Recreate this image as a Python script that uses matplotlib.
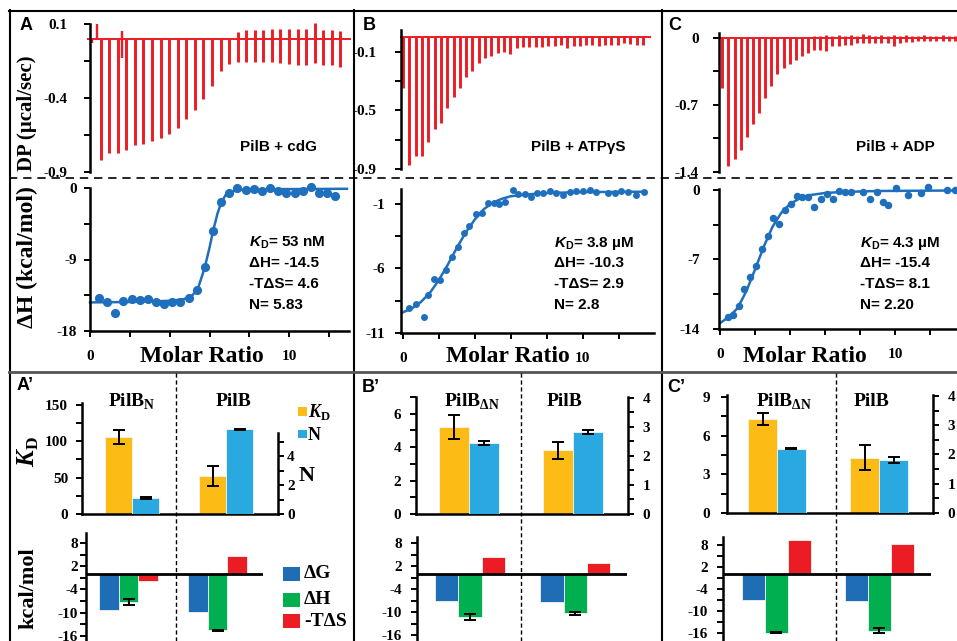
import numpy as np
import matplotlib.pyplot as plt
from matplotlib.lines import Line2D
from matplotlib.patches import Rectangle
from matplotlib.ticker import FixedLocator, MultipleLocator, FuncFormatter

plt.rcParams['font.family'] = ['Liberation Serif', 'DejaVu Serif']
plt.rcParams['font.weight'] = 'bold'
plt.rcParams['axes.unicode_minus'] = False
plt.rcParams['mathtext.fontset'] = 'custom'
plt.rcParams['mathtext.rm'] = 'Liberation Sans:bold'
plt.rcParams['mathtext.it'] = 'Liberation Sans:italic:bold'
plt.rcParams['mathtext.bf'] = 'Liberation Serif:bold'
plt.rcParams['mathtext.sf'] = 'Liberation Serif:italic:bold'

W, H = 957, 641
RED = '#ec1c24'
BLUE = '#1f6fbd'
YELLOW = '#fdbb16'
SKY = '#2aa8e0'
ENERGY_COLORS = ['#1f6db5', '#00b050', '#ec1c24']
SANS = 'Liberation Sans'

# ---------------- raw ITC traces: peak height of each injection (ucal/sec) ----------------
dpA_low = [-0.82, -0.77, -0.77, -0.75, -0.72, -0.71, -0.69, -0.67, -0.64, -0.60,
           -0.54, -0.48, -0.41, -0.32, -0.22, -0.17, -0.155, -0.155, -0.155, -0.155,
           -0.16, -0.165, -0.17, -0.18, -0.18, -0.165, -0.175, -0.175, -0.19]
dpA_high = [0, 0, 0, 0, 0, 0, 0, 0, 0, 0, 0, 0, 0, 0, 0, 0,
            0.048, 0.06, 0.06, 0.06, 0.065, 0.065, 0.065, 0.065, 0.065, 0.105, 0.06, 0.06, 0.055]
dpA_art_x = [-0.98, -0.47, 2.45]
dpA_art_low = [-0.03, 0.0, -0.13]
dpA_art_high = [0.0, 0.10, 0.055]

dpB_low = [-0.348, -0.873, -0.811, -0.811, -0.717, -0.629, -0.588, -0.485, -0.41, -0.348,
           -0.273, -0.228, -0.178, -0.143, -0.127, -0.109, -0.098, -0.114, -0.075, -0.068,
           -0.068, -0.064, -0.064, -0.059, -0.059, -0.052, -0.075, -0.059, -0.059, -0.052,
           -0.052, -0.059, -0.052, -0.052, -0.052, -0.04, -0.045, -0.052, -0.052]
dpB_high = [0, 0, 0, 0, 0, 0, 0, 0, 0, 0, 0, 0, 0, 0, 0, 0.01, 0.01, 0.01, 0.01, 0.01,
            0.01, 0.01, 0.01, 0.01, 0.01, 0.01, 0.01, 0.01, 0.01, 0.01, 0.01, 0.01, 0.01,
            0.01, 0.01, 0.01, 0.01, 0.01, 0.01]

dpC_low = [-0.52, -1.34, -1.26, -1.17, -1.04, -0.90, -0.78, -0.63, -0.50, -0.38,
           -0.32, -0.27, -0.23, -0.195, -0.16, -0.125, -0.125, -0.14, -0.09, -0.09,
           -0.077, -0.077, -0.056, -0.056, -0.056, -0.05, -0.056, -0.05, -0.09, -0.05,
           -0.045, -0.04, -0.035, -0.035, -0.03, -0.03, -0.03, -0.03, -0.03]
dpC_high = [0, 0, 0, 0, 0, 0, 0, 0, 0, 0, 0, 0, 0, 0, 0, 0.02, 0.02, 0.03, 0.02, 0.03,
            0.02, 0.03, 0.02, 0.04, 0.03, 0.02, 0.03, 0.02, 0.03, 0.02, 0.03, 0.02, 0.02,
            0.03, 0.02, 0.02, 0.03, 0.02, 0.02]

# ---------------- integrated heats (kcal/mol) vs molar ratio ----------------
isoA_x = [0.45, 0.86, 1.27, 1.68, 2.09, 2.50, 2.90, 3.31, 3.72, 4.13, 4.54, 4.95, 5.36, 5.77, 6.18,
          6.58, 6.99, 7.40, 7.81, 8.22, 8.63, 9.04, 9.45, 9.86, 10.27, 10.68, 11.09, 11.50, 11.91, 12.31]
isoA_y = [-13.9, -14.3, -15.7, -14.2, -14.0, -14.1, -14.0, -14.3, -14.6, -14.4, -14.4, -13.9, -12.9,
          -10.0, -5.4, -1.7, -0.67, -0.04, -0.25, -0.17, -0.34, -0.04, -0.34, -0.59, -0.59, -0.34,
          0.08, -0.59, -0.67, -0.97]
fitA_x = [0, 2, 4, 4.7, 5.1, 5.4, 5.76, 6.0, 6.18, 6.4, 6.58, 6.8, 7.0, 7.5, 9, 12.9]
fitA_y = [-14.4, -14.35, -14.2, -14.0, -13.6, -12.8, -10.0, -7.5, -5.4, -3.2, -1.9, -0.9, -0.5,
          -0.25, -0.15, -0.1]

isoB_x = [0.37, 0.74, 1.17, 1.39, 1.72, 2.04, 2.41, 2.72, 3.06, 3.39, 3.70, 4.07, 4.39, 4.72, 5.06,
          5.37, 5.69, 6.11, 6.39, 6.76, 7.13, 7.46, 7.78, 8.15, 8.52, 8.89, 9.26, 9.63, 10.0, 10.37,
          10.74, 11.4, 11.76, 12.13, 12.5, 12.96, 13.37]
isoB_y = [-9.09, -8.75, -9.78, -8.05, -6.84, -6.89, -6.12, -5.13, -4.31, -3.22, -2.71, -1.78, -1.72,
          -0.95, -0.90, -1.0, -0.82, 0.09, -0.22, -0.22, -0.48, -0.17, -0.12, 0.03, -0.12, -0.30,
          -0.05, 0.03, 0.03, 0.09, -0.05, -0.12, -0.17, 0.03, -0.05, -0.30, -0.05]
fitB_x = [0, 0.5, 1.0, 1.5, 2.0, 2.5, 3.0, 3.5, 4.0, 4.5, 5.0, 5.5, 6.0, 7.0, 8.0, 10.0, 13.5]
fitB_y = [-9.4, -9.1, -8.6, -7.9, -6.9, -5.7, -4.4, -3.2, -2.2, -1.4, -0.9, -0.6, -0.4, -0.25,
          -0.15, -0.08, -0.05]

isoC_x = [0.44, 0.76, 1.09, 1.39, 1.71, 2.04, 2.38, 2.72, 3.05, 3.39, 3.71, 4.06, 4.38, 4.70, 5.05,
          5.39, 5.77, 6.10, 6.44, 6.80, 7.14, 7.49, 8.19, 8.57, 8.95, 9.30, 9.62, 10.06, 10.72,
          11.47, 11.87, 12.95, 13.43]
isoC_y = [-12.76, -12.59, -11.68, -10.0, -8.8, -7.65, -5.97, -4.63, -2.85, -3.42, -2.01, -1.41,
          -0.60, -0.74, -0.74, -1.74, -0.94, -0.40, -0.94, -0.07, -0.17, -0.17, -0.17, -0.94, -0.17,
          -1.17, -1.51, 0.17, -0.5, -0.34, 0.27, 0.0, 0.0]
fitC_x = [0, 0.5, 1.0, 1.5, 2.0, 2.5, 3.0, 3.5, 4.0, 4.5, 5.0, 6.0, 7.0, 9.0, 13.5]
fitC_y = [-13.4, -12.8, -11.9, -10.2, -8.0, -5.7, -3.7, -2.3, -1.4, -0.9, -0.55, -0.3, -0.2, -0.1,
          -0.05]

titles = ['PilB + cdG', 'PilB + ATPγS', 'PilB + ADP']
kd_text = [r'$K_{\mathrm{D}}$= 53 nM', r'$K_{\mathrm{D}}$= 3.8 µM', r'$K_{\mathrm{D}}$= 4.3 µM']
dh_text = ['ΔH= -14.5', 'ΔH= -10.3', 'ΔH= -15.4']
tds_text = ['-TΔS= 4.6', '-TΔS= 2.9', '-TΔS= 8.1']
n_text = ['N= 5.83', 'N= 2.8', 'N= 2.20']

# ---------------- bar panels ----------------
groups_A = [r'PilB$_{\mathbf{N}}$', 'PilB']
groups_BC = [r'PilB$_{\mathbf{ΔN}}$', 'PilB']

kd_A = [106, 52.5]
kd_A_err = [10, 14]
n_A = [1.1, 5.85]
n_A_err = [0.05, 0.03]
dg_A = [-9.3, -9.8]
dh_A = [-7.2, -14.5]
dh_A_err = [0.75, 0.12]
tds_A = [-1.8, 4.7]

kd_B = [5.2, 3.8]
kd_B_err = [0.7, 0.52]
n_B = [2.45, 2.83]
n_B_err = [0.06, 0.07]
dg_B = [-7.0, -7.4]
dh_B = [-11.2, -10.3]
dh_B_err = [0.8, 0.3]
tds_B = [4.35, 2.9]

kd_C = [7.3, 4.3]
kd_C_err = [0.45, 0.95]
n_C = [2.2, 1.8]
n_C_err = [0.03, 0.1]
dg_C = [-7.0, -7.3]
dh_C = [-16.0, -15.4]
dh_C_err = [0.1, 0.6]
tds_C = [9.3, 8.1]

energy_labels = ['ΔG', 'ΔH', '-TΔS']
kdn_labels = [r'$\mathsf{K}_{\mathbf{D}}$', 'N']

fig = plt.figure(figsize=(W / 100, H / 100), dpi=100)


def px_axes(left, top, right, bottom):
    return fig.add_axes([left / W, 1 - bottom / H, (right - left) / W, (bottom - top) / H])


def px_text(x, y, s, ha='center', va='center', **kw):
    fig.text(x / W, 1 - y / H, s, ha=ha, va=va, **kw)


def px_line(x0, y0, x1, y1, **kw):
    fig.add_artist(Line2D([x0 / W, x1 / W], [1 - y0 / H, 1 - y1 / H],
                          transform=fig.transFigure, **kw))


def px_rect(x, y, w, h, color):
    fig.add_artist(Rectangle((x / W, 1 - (y + h) / H), w / W, h / H,
                             transform=fig.transFigure, color=color, lw=0))


fmt = FuncFormatter(lambda v, p: f'{v:g}')


def style(ax, pad):
    ax.patch.set_visible(False)
    for side in ['top', 'right']:
        ax.spines[side].set_visible(False)
    for side in ['left', 'bottom']:
        ax.spines[side].set_linewidth(1.8)
    ax.tick_params(which='both', direction='out', length=4.5, width=1.4, pad=pad, labelsize=11)
    ax.yaxis.set_major_formatter(fmt)


def draw_dp(box, xlim, ylim, major, minor, pad, base, low, high):
    ax = px_axes(*box)
    style(ax, pad)
    ax.spines['bottom'].set_visible(False)
    ax.set_xticks([])
    ax.set_xlim(*xlim)
    ax.set_ylim(*ylim)
    ax.yaxis.set_major_locator(FixedLocator(major))
    ax.yaxis.set_minor_locator(FixedLocator(minor))
    ax.plot(base, [0, 0], color=RED, lw=1.4, clip_on=False)
    ax.vlines(np.arange(len(low)), low, high, color=RED, lw=2.1, clip_on=False)
    return ax


def draw_iso(box, xlim, ylim, major, minor, pad, px, py, fx, fy, ms):
    ax = px_axes(*box)
    style(ax, pad)
    ax.set_xlim(*xlim)
    ax.set_ylim(*ylim)
    ax.yaxis.set_major_locator(FixedLocator(major))
    ax.yaxis.set_minor_locator(FixedLocator(minor))
    ax.xaxis.set_major_locator(FixedLocator([0, 10]))
    ax.xaxis.set_minor_locator(MultipleLocator(2))
    ax.xaxis.set_major_formatter(fmt)
    ax.tick_params(axis='x', which='major', pad=9)
    ax.plot(fx, fy, color=BLUE, lw=1.8, clip_on=False)
    ax.plot(px, py, 'o', color=BLUE, ms=ms, mec='none', clip_on=False)
    return ax


def draw_kdn(box, xlim, ylim, lmajor, lminor, rylim, rbound, rmajor, rminor, lpad, rpad,
             kd, kd_err, n, n_err, width):
    ax = px_axes(*box)
    style(ax, lpad)
    ax.set_xticks([])
    ax.set_xlim(*xlim)
    ax.set_ylim(*ylim)
    ax.yaxis.set_major_locator(FixedLocator(lmajor))
    ax.yaxis.set_minor_locator(MultipleLocator(lminor))
    x = np.arange(len(kd))
    ekw = dict(elinewidth=1.4, capthick=1.4, ecolor='black')
    ax.bar(x - width / 2, kd, width, color=YELLOW, yerr=kd_err, capsize=4.5,
           error_kw=ekw, edgecolor='#f3f3f3', lw=0.6)
    ax2 = ax.twinx()
    ax2.patch.set_visible(False)
    for side in ['left', 'top', 'bottom']:
        ax2.spines[side].set_visible(False)
    ax2.spines['right'].set_linewidth(1.8)
    ax2.spines['right'].set_bounds(0, rbound)
    ax2.set_ylim(*rylim)
    ax2.yaxis.set_major_locator(FixedLocator(rmajor))
    ax2.yaxis.set_minor_locator(FixedLocator(rminor))
    ax2.yaxis.set_major_formatter(fmt)
    ax2.tick_params(which='both', direction='out', length=4.5, width=1.4, pad=rpad, labelsize=11)
    ax2.bar(x + width / 2, n, width, color=SKY, yerr=n_err, capsize=4.5,
            error_kw=ekw, edgecolor='#f3f3f3', lw=0.6)
    return ax


def draw_energy(box, xlim, ylim, pad, dg, dh, dh_err, tds, width):
    ax = px_axes(*box)
    style(ax, pad)
    ax.spines['bottom'].set_visible(False)
    ax.set_xticks([])
    ax.set_xlim(*xlim)
    ax.set_ylim(*ylim)
    ax.yaxis.set_major_locator(FixedLocator([8, 2, -4, -10, -16]))
    ax.yaxis.set_minor_locator(FixedLocator([5, -1, -7, -13]))
    x = np.arange(len(dg))
    ax.bar(x - width, dg, width, color=ENERGY_COLORS[0], edgecolor='#f3f3f3', lw=0.6)
    ax.bar(x, dh, width, color=ENERGY_COLORS[1], yerr=dh_err, capsize=4,
           error_kw=dict(elinewidth=1.4, capthick=1.4, ecolor='black'),
           edgecolor='#f3f3f3', lw=0.6)
    ax.bar(x + width, tds, width, color=ENERGY_COLORS[2], edgecolor='#f3f3f3', lw=0.6)
    ax.axhline(0, color='black', lw=2)
    return ax


# ---------------- top row: ITC ----------------
axA = draw_dp((90, 24, 352, 172), (-1.25, 29.36), (-0.9, 0.1), [0.1, -0.4, -0.9], [-0.15, -0.65],
              11.5, [-1.48, 29.1], dpA_low, dpA_high)
axA.vlines(dpA_art_x, dpA_art_low, dpA_art_high, color=RED, lw=1.7, clip_on=False)
draw_iso((90, 188, 349, 331), (0, 13), (-18, 0), [0, -9, -18], [-4.5, -13.5], 5,
         isoA_x, isoA_y, fitA_x, fitA_y, 6.6)

draw_dp((401, 30, 655, 169), (-0.32, 39.9), (-0.9, 0.05), [-0.1, -0.5, -0.9], [-0.3, -0.7],
        13, [-0.32, 39.1], dpB_low, dpB_high)
draw_iso((401, 189, 654, 333), (-0.1, 13.95), (-11, 0.16), [-1, -6, -11], [-3.5, -8.5], 7,
         isoB_x, isoB_y, fitB_x, fitB_y, 5.0)

draw_dp((719, 33, 957, 172), (-0.54, 38.35), (-1.4, 0.05), [0, -0.7, -1.4], [-0.35, -1.05],
        10, [-0.54, 38.35], dpC_low, dpC_high)
draw_iso((719, 189, 957, 329), (-0.06, 13.54), (-14, 0.1), [0, -7, -14], [-3.5, -10.5], 9,
         isoC_x, isoC_y, fitC_x, fitC_y, 5.4)

for i, (lx, tx, ix, mx) in enumerate([(26, 278, 249, 202), (369, 578, 554, 508), (675, 895, 860, 805)]):
    px_text(lx, 25, 'ABC'[i], family=SANS, fontsize=13)
    px_text(tx, 147, titles[i], family=SANS, fontsize=11)
    px_text(ix, 246.5, kd_text[i], ha='left', va='baseline', family=SANS, fontsize=11)
    px_text(ix, 267, dh_text[i], ha='left', va='baseline', family=SANS, fontsize=11)
    px_text(ix, 288, tds_text[i], ha='left', va='baseline', family=SANS, fontsize=11)
    px_text(ix, 309, n_text[i], ha='left', va='baseline', family=SANS, fontsize=11)
    px_text(mx, 356, 'Molar Ratio', fontsize=17)

px_text(27, 113, 'DP (µcal/sec)', rotation=90, fontsize=15)
px_text(27, 257, 'ΔH (kcal/mol)', rotation=90, fontsize=17)

# ---------------- bottom row: bars ----------------
draw_kdn((82, 403, 278, 514), (-0.532, 1.553), (0, 152.7), [0, 50, 100, 150], 25, (0, 7.66), 5.6,
         [0, 2, 4], [1, 3, 5], 5.5, 2, kd_A, kd_A_err, n_A, n_A_err, 0.287)
draw_energy((86, 533, 263, 641), (-0.478, 1.511), (-17.29, 10.58), 1.5,
            dg_A, dh_A, dh_A_err, tds_A, 0.219)

draw_kdn((416, 397, 628, 514), (-0.51, 1.529), (0, 7), [0, 2, 4, 6], 1, (0, 4.03), 4.03,
         [0, 1, 2, 3, 4], [0.5, 1.5, 2.5, 3.5], 6, 6, kd_B, kd_B_err, n_B, n_B_err, 0.284)
draw_energy((417, 537, 627, 641), (-0.503, 1.491), (-17.48, 9.65), 6.5,
            dg_B, dh_B, dh_B_err, tds_B, 0.221)

draw_kdn((727, 395, 933, 513), (-0.49, 1.529), (0, 9.15), [0, 3, 6, 9], 1.5, (0, 4.03), 4.03,
         [0, 1, 2, 3, 4], [0.5, 1.5, 2.5, 3.5], 8, 6, kd_C, kd_C_err, n_C, n_C_err, 0.284)
draw_energy((723, 537, 931, 641), (-0.517, 1.502), (-18.26, 10.08), 6.5,
            dg_C, dh_C, dh_C_err, tds_C, 0.223)

px_text(25, 385, 'A’', family=SANS, fontsize=13)
px_text(371, 387, 'B’', family=SANS, fontsize=13)
px_text(676, 387, 'C’', family=SANS, fontsize=13)

px_text(132, 406, groups_A[0], va='baseline', fontsize=14)
px_text(234, 406, groups_A[1], va='baseline', fontsize=14)
px_text(472, 406, groups_BC[0], va='baseline', fontsize=14)
px_text(565, 406, groups_BC[1], va='baseline', fontsize=14)
px_text(784, 406, groups_BC[0], va='baseline', fontsize=14)
px_text(872, 406, groups_BC[1], va='baseline', fontsize=14)

px_text(28, 452, r'$\mathsf{K}_{\mathbf{D}}$', rotation=90, fontsize=18)
px_text(307, 476, 'N', fontsize=16)
px_text(28, 588, 'kcal/mol', rotation=90, fontsize=16)

# legends in A'
px_rect(298, 407, 9, 9, YELLOW)
px_rect(298, 430, 9, 8, SKY)
px_text(308, 412, kdn_labels[0], ha='left', fontsize=13)
px_text(308, 435, kdn_labels[1], ha='left', fontsize=13)
for y, c, lab in zip([567, 593, 614], ENERGY_COLORS, energy_labels):
    px_rect(283, y, 17, 14, c)
    px_text(304, y + 7, lab, ha='left', fontsize=14)

# ---------------- frame and dividers ----------------
px_line(9, 10.5, 957, 10.5, color='black', lw=1.5)
px_line(9.5, 10, 9.5, 641, color='black', lw=1.5)
px_line(354, 10, 354, 641, color='black', lw=1.5)
px_line(662, 10, 662, 641, color='black', lw=1.5)
px_line(9, 372, 957, 372, color='#555555', lw=2)
px_line(9, 178, 957, 178, color='black', lw=1.2, dashes=(5, 3.5))
for x in [176, 521, 836]:
    px_line(x, 373, x, 641, color='black', lw=1.0, dashes=(3, 2))

fig.savefig('out.png', dpi=100)
